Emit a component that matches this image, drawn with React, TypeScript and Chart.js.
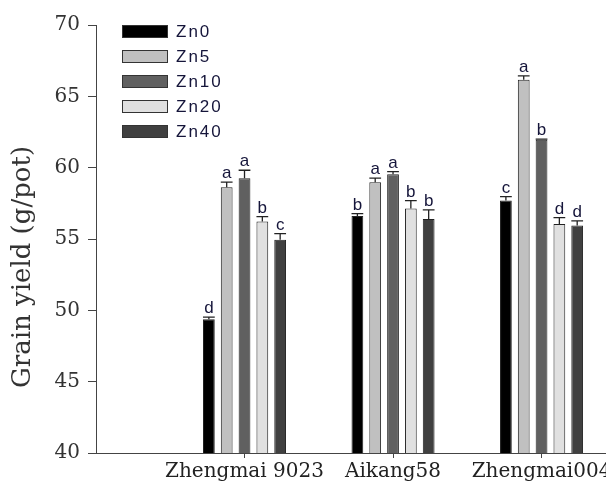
import { useEffect, useRef } from 'react';
import { Chart, registerables } from 'chart.js';

Chart.register(...registerables);

const categories = ['Zhengmai 9023', 'Aikang58', 'Zhengmai004'];
const categoryX = [1, 2, 3];
const seriesNames = ['Zn0', 'Zn5', 'Zn10', 'Zn20', 'Zn40'];
const seriesColors = ['#000000', '#c0c0c0', '#606060', '#e0e0e0', '#404040'];

const zn0 = [49.38, 56.62, 57.69];
const zn5 = [58.63, 58.98, 66.16];
const zn10 = [59.26, 59.54, 61.95];
const zn20 = [56.22, 57.13, 56.06];
const zn40 = [54.94, 56.41, 55.94];

const zn0Err = [0.14, 0.16, 0.28];
const zn5Err = [0.35, 0.28, 0.28];
const zn10Err = [0.56, 0.18, 0.05];
const zn20Err = [0.35, 0.56, 0.44];
const zn40Err = [0.44, 0.63, 0.33];

const zn0Sig = ['d', 'b', 'c'];
const zn5Sig = ['a', 'a', 'a'];
const zn10Sig = ['a', 'a', 'b'];
const zn20Sig = ['b', 'b', 'd'];
const zn40Sig = ['c', 'b', 'd'];

const yTicks = [40, 45, 50, 55, 60, 65, 70];
const yTitle = 'Grain yield (g/pot)';

const seriesValues = [zn0, zn5, zn10, zn20, zn40];
const seriesErrors = [zn0Err, zn5Err, zn10Err, zn20Err, zn40Err];
const seriesSig = [zn0Sig, zn5Sig, zn10Sig, zn20Sig, zn40Sig];

const extrasPlugin = {
  id: 'extras',
  afterDatasetsDraw(chart: any) {
    const ctx = chart.ctx;
    const y = chart.scales.y;
    ctx.save();
    chart.data.datasets.forEach((_ds: any, i: number) => {
      const meta = chart.getDatasetMeta(i);
      meta.data.forEach((bar: any, j: number) => {
        const v = seriesValues[i][j];
        const e = seriesErrors[i][j];
        const top = y.getPixelForValue(v + e);
        const x = bar.x;
        const w = bar.width;
        ctx.strokeStyle = '#222';
        ctx.lineWidth = 1.3;
        ctx.beginPath();
        ctx.moveTo(x, bar.y);
        ctx.lineTo(x, top);
        ctx.moveTo(x - w / 2, top);
        ctx.lineTo(x + w / 2, top);
        ctx.stroke();
        ctx.fillStyle = '#15153a';
        ctx.font = '17px "Liberation Sans", Arial, sans-serif';
        ctx.textAlign = 'center';
        ctx.textBaseline = 'alphabetic';
        ctx.fillText(seriesSig[i][j], x, top - 4);
      });
    });
    ctx.restore();
  },
  afterDraw(chart: any) {
    const ctx = chart.ctx;
    ctx.save();
    seriesNames.forEach((name, i) => {
      const by = 25 + i * 25;
      ctx.fillStyle = seriesColors[i];
      ctx.fillRect(122, by, 46, 13);
      ctx.strokeStyle = '#333';
      ctx.lineWidth = 1;
      ctx.strokeRect(122.5, by + 0.5, 45, 12);
      ctx.fillStyle = '#15153a';
      ctx.font = '17px "Liberation Sans", Arial, sans-serif';
      (ctx as any).letterSpacing = '2px';
      ctx.textAlign = 'left';
      ctx.textBaseline = 'middle';
      ctx.fillText(name, 176, by + 7);
    });
    (ctx as any).letterSpacing = '0px';
    ctx.translate(23, 267);
    ctx.rotate(-Math.PI / 2);
    ctx.fillStyle = '#333';
    ctx.font = '26px "DejaVu Serif", serif';
    ctx.textAlign = 'center';
    ctx.textBaseline = 'middle';
    ctx.fillText(yTitle, 0, 0);
    ctx.restore();
  },
};

export default function App() {
  const ref = useRef<HTMLCanvasElement>(null);
  useEffect(() => {
    const chart = new Chart(ref.current!, {
      type: 'bar',
      data: {
        datasets: seriesNames.map((name, i) => ({
          label: name,
          data: categoryX.map((x, j) => ({ x, y: seriesValues[i][j] })),
          backgroundColor: seriesColors[i],
          borderColor: '#222',
          borderWidth: 1,
          categoryPercentage: 0.6,
          barPercentage: 0.66,
        })),
      } as any,
      options: {
        animation: false,
        responsive: true,
        maintainAspectRatio: false,
        layout: { padding: { top: 25, right: 0, left: 0, bottom: 0 } },
        plugins: { legend: { display: false }, tooltip: { enabled: false } },
        scales: {
          x: {
            type: 'linear',
            offset: false,
            min: 0,
            max: 3.434,
            afterBuildTicks: (scale: any) => {
              scale.ticks = categoryX.map((v) => ({ value: v }));
            },
            afterFit: (scale: any) => {
              scale.height = 31;
              scale.paddingLeft = 0;
              scale.paddingRight = 0;
            },
            ticks: {
              autoSkip: false,
              maxRotation: 0,
              padding: 2,
              color: '#222',
              font: { family: '"DejaVu Serif", serif', size: 20 },
              callback: (value: any) => categories[categoryX.indexOf(Number(value))] ?? '',
            },
            grid: { offset: false, drawOnChartArea: false, drawTicks: true, tickLength: 5, color: '#444' },
            border: { color: '#444', width: 1 },
          },
          y: {
            min: 40,
            max: 70,
            afterBuildTicks: (scale: any) => {
              scale.ticks = yTicks.map((v) => ({ value: v }));
            },
            afterFit: (scale: any) => {
              scale.width = 96;
            },
            ticks: {
              padding: 8,
              color: '#333',
              font: { family: '"DejaVu Serif", serif', size: 20 },
            },
            grid: { drawOnChartArea: false, drawTicks: true, tickLength: 8, color: '#444' },
            border: { color: '#444', width: 1 },
          },
        },
      } as any,
      plugins: [extrasPlugin],
    });
    return () => chart.destroy();
  }, []);
  return (
    <div style={{ position: 'fixed', left: 0, top: 0, width: 606, height: 484, background: '#fff' }}>
      <canvas ref={ref} />
    </div>
  );
}
